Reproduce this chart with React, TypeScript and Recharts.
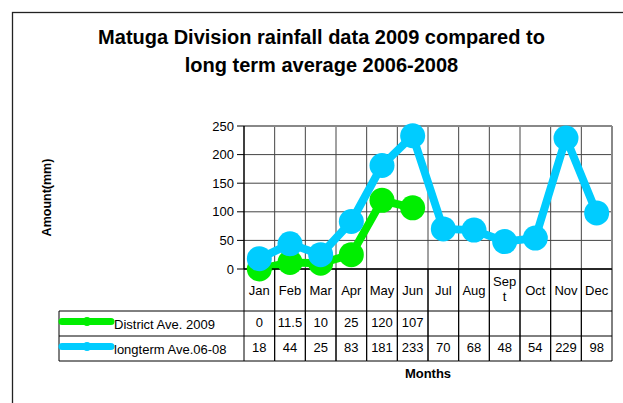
import React from 'react';
import { LineChart, Line, XAxis, YAxis, CartesianGrid, Label } from 'recharts';

// categories and series
const months = ['Jan', 'Feb', 'Mar', 'Apr', 'May', 'Jun', 'Jul', 'Aug', 'Sept', 'Oct', 'Nov', 'Dec'];
const districtAve2009 = [0, 11.5, 10, 25, 120, 107, null, null, null, null, null, null];
const longtermAve0608 = [18, 44, 25, 83, 181, 233, 70, 68, 48, 54, 229, 98];
const yTicks = [0, 50, 100, 150, 200, 250];

const seriesMeta = [
    { key: 'district', label: 'District Ave. 2009', color: '#00ee00', values: districtAve2009 },
    { key: 'longterm', label: 'longterm Ave.06-08', color: '#00ccff', values: longtermAve0608 },
];

const data = months.map((month, i) => ({
    month,
    district: districtAve2009[i],
    longterm: longtermAve0608[i],
}));

const FONT = '"Liberation Sans", Arial, sans-serif';
const PLOT_W = 368;
const BAND = PLOT_W / months.length;
const LEGEND_W = 185; // width of the series-name column of the data table

// x-axis tick: month label plus the data-table column underneath it
const TableTick = (props: any) => {
    const { x, y, payload, index } = props;
    const l = x - BAND / 2;
    const r = x + BAND / 2;
    const label: string = payload.value;
    const labelLines = label.length > 3 ? [label.slice(0, 3), label.slice(3)] : [label];
    const vals = seriesMeta.map(s => s.values[index]);

    return (
        <g fontFamily={FONT} fontSize={13} fill="#000">
            <line x1={l} y1={y} x2={l} y2={y + 92} stroke="#000" />
            <line x1={r} y1={y} x2={r} y2={y + 92} stroke="#000" />
            {[42, 67, 92].map(dy => (
                <line key={dy} x1={l} x2={r} y1={y + dy} y2={y + dy} stroke="#000" />
            ))}
            {labelLines.length === 1 ? (
                <text x={x} y={y + 25.5} textAnchor="middle">{labelLines[0]}</text>
            ) : (
                <>
                    <text x={x} y={y + 17} textAnchor="middle">{labelLines[0]}</text>
                    <text x={x} y={y + 32} textAnchor="middle">{labelLines[1]}</text>
                </>
            )}
            {vals.map((v, i) =>
                v == null ? null : (
                    <text key={i} x={x} y={y + 58 + i * 25} textAnchor="middle">{v}</text>
                )
            )}
            {index === 0 && (
                <g>
                    {[42, 67, 92].map(dy => (
                        <line key={dy} x1={l - LEGEND_W} x2={l} y1={y + dy} y2={y + dy} stroke="#000" />
                    ))}
                    <line x1={l - LEGEND_W} x2={l - LEGEND_W} y1={y + 42} y2={y + 92} stroke="#000" />
                    {seriesMeta.map((s, i) => (
                        <g key={s.key}>
                            <line
                                x1={l - LEGEND_W + 3}
                                x2={l - LEGEND_W + 52}
                                y1={y + 52.5 + i * 25}
                                y2={y + 52.5 + i * 25}
                                stroke={s.color}
                                strokeWidth={7}
                                strokeLinecap="round"
                            />
                            <circle cx={l - LEGEND_W + 28} cy={y + 52.5 + i * 25} r={4.5} fill={s.color} />
                            <text x={l - LEGEND_W + 55} y={y + 59.5 + i * 25}>{s.label}</text>
                        </g>
                    ))}
                </g>
            )}
        </g>
    );
};

// vertical grid lines sit between categories, not on them
const bandEdges = ({ offset }: any) =>
    months.slice(1).map((_, i) => offset.left + ((i + 1) * offset.width) / months.length);

// plot-area frame on the top and right, drawn lighter like the original
const frameTop = ({ offset }: any) => [offset.top];
const frameRight = ({ offset }: any) => [offset.left + offset.width];

const App: React.FC = () => {
    return (
        <div style={{ position: 'absolute', left: 0, top: 0, width: 623, height: 403, background: '#fff' }}>
            <svg width={623} height={403} style={{ position: 'absolute', left: 0, top: 0 }}>
                <rect x={12.5} y={12.5} width={700} height={500} fill="none" stroke="#222" strokeWidth={1.3} />
                <text x={321.5} y={44} textAnchor="middle" fontFamily={FONT} fontWeight="bold" fontSize={20}>
                    Matuga Division rainfall data 2009 compared to
                </text>
                <text x={321.5} y={71.5} textAnchor="middle" fontFamily={FONT} fontWeight="bold" fontSize={20}>
                    long term average 2006-2008
                </text>
            </svg>
            <div style={{ position: 'absolute', left: 0, top: 0 }}>
                <LineChart width={623} height={403} data={data} margin={{ top: 126, right: 11, left: 44, bottom: 24 }}>
                    <CartesianGrid stroke="#444" verticalCoordinatesGenerator={bandEdges} />
                    <CartesianGrid
                        stroke="#888"
                        strokeWidth={2}
                        horizontalCoordinatesGenerator={frameTop}
                        verticalCoordinatesGenerator={frameRight}
                    />
                    <XAxis
                        dataKey="month"
                        interval={0}
                        padding={{ left: BAND / 2, right: BAND / 2 }}
                        height={110}
                        tickLine={false}
                        tickSize={0}
                        tickMargin={0}
                        axisLine={{ stroke: '#000', strokeWidth: 1.5 }}
                        tick={<TableTick />}
                    >
                        <Label
                            content={({ viewBox }: any) => (
                                <text
                                    x={viewBox.x + viewBox.width / 2}
                                    y={viewBox.y + 109}
                                    textAnchor="middle"
                                    fontFamily={FONT}
                                    fontWeight="bold"
                                    fontSize={13}
                                >
                                    Months
                                </text>
                            )}
                        />
                    </XAxis>
                    <YAxis
                        width={200}
                        domain={[0, 250]}
                        ticks={yTicks}
                        interval={0}
                        tickSize={7}
                        tickMargin={3}
                        axisLine={{ stroke: '#000', strokeWidth: 1.5 }}
                        tickLine={{ stroke: '#000' }}
                        tick={{ fill: '#000', fontSize: 13, fontFamily: FONT }}
                    >
                        <Label
                            content={({ viewBox }: any) => {
                                const lx = viewBox.x + 7;
                                const ly = viewBox.y + viewBox.height / 2;
                                return (
                                    <text
                                        x={lx}
                                        y={ly}
                                        transform={`rotate(-90, ${lx}, ${ly})`}
                                        textAnchor="middle"
                                        fontFamily={FONT}
                                        fontWeight="bold"
                                        fontSize={12.5}
                                    >
                                        Amount(mm)
                                    </text>
                                );
                            }}
                        />
                    </YAxis>
                    {seriesMeta.map(s => (
                        <Line
                            key={s.key}
                            dataKey={s.key}
                            stroke={s.color}
                            strokeWidth={8}
                            dot={{ r: 12.5, fill: s.color, stroke: s.color, strokeWidth: 0 }}
                            activeDot={false}
                            isAnimationActive={false}
                        />
                    ))}
                </LineChart>
            </div>
        </div>
    );
};

export default App;
